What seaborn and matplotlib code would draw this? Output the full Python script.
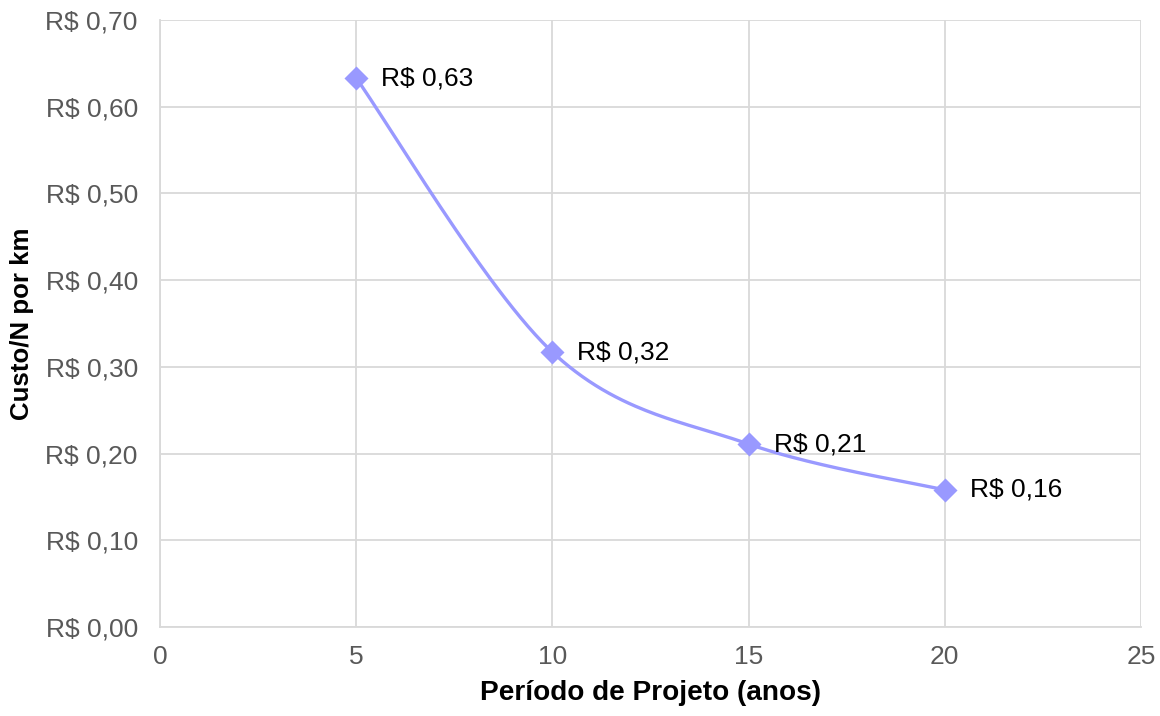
import numpy as np
import pandas as pd
import matplotlib
matplotlib.use("Agg")
import matplotlib.pyplot as plt
import seaborn as sns

# Chart data
periodos = [5, 10, 15, 20]
custos = [0.633, 0.317, 0.211, 0.158]
rotulos = ["R$ 0,63", "R$ 0,32", "R$ 0,21", "R$ 0,16"]
x_ticks = [0, 5, 10, 15, 20, 25]
y_ticks = [0.0, 0.1, 0.2, 0.3, 0.4, 0.5, 0.6, 0.7]
y_tick_labels = ["R$ 0,00", "R$ 0,10", "R$ 0,20", "R$ 0,30",
                 "R$ 0,40", "R$ 0,50", "R$ 0,60", "R$ 0,70"]

LINE = "#9999FF"
GRID = "#D9D9D9"
TICK = "#595959"

sns.set_theme(style="white")
plt.rcParams["font.family"] = ["Liberation Sans", "DejaVu Sans"]

fig = plt.figure(figsize=(11.6, 7.16), dpi=100)
ax = fig.add_axes([160 / 1160, 89 / 716, 981 / 1160, 607 / 716])
ax.set_xlim(0, 25)
ax.set_ylim(0, 0.70)
ax.set_xticks(x_ticks)
ax.set_yticks(y_ticks)
ax.set_yticklabels(y_tick_labels)
ax.grid(True, color=GRID, linewidth=1.3)
ax.set_axisbelow(True)
for side in ["top", "right"]:
    ax.spines[side].set_visible(False)
for side in ["left", "bottom"]:
    ax.spines[side].set_color(GRID)
    ax.spines[side].set_linewidth(1.3)
ax.tick_params(axis="both", length=0, labelsize=19, colors=TICK)
ax.tick_params(axis="x", pad=13)
ax.tick_params(axis="y", pad=16)

# Smoothed curve (Catmull-Rom style Bezier computed in display space)
pts = ax.transData.transform(np.column_stack([periodos, custos]))
ext = np.vstack([pts[0], pts, pts[-1]])
curve = []
t = np.linspace(0, 1, 60)[:, None]
for i in range(len(pts) - 1):
    p0, p3 = ext[i + 1], ext[i + 2]
    c1 = p0 + (ext[i + 2] - ext[i]) / 6
    c2 = p3 - (ext[i + 3] - ext[i + 1]) / 6
    seg = ((1 - t) ** 3) * p0 + 3 * ((1 - t) ** 2) * t * c1 + 3 * (1 - t) * t ** 2 * c2 + t ** 3 * p3
    curve.append(seg if i == 0 else seg[1:])
curve = ax.transData.inverted().transform(np.vstack(curve))
smooth = pd.DataFrame({"x": curve[:, 0], "y": curve[:, 1]})
sns.lineplot(data=smooth, x="x", y="y", ax=ax, color=LINE, linewidth=2.4,
             sort=False, estimator=None)

df = pd.DataFrame({"periodo": periodos, "custo": custos})
sns.scatterplot(data=df, x="periodo", y="custo", ax=ax, marker="D", s=150,
                color=LINE, edgecolor=LINE, linewidth=0, zorder=5)

for xv, yv, lab in zip(periodos, custos, rotulos):
    ax.annotate(lab, (xv, yv), xytext=(18, 0), textcoords="offset points",
                va="center", ha="left", fontsize=19, color="black")

ax.set_xlabel("Período de Projeto (anos)", fontsize=20.2, fontweight="bold",
              color="black", labelpad=8)
ax.set_ylabel("Custo/N por km", fontsize=18.6, fontweight="bold",
              color="black", labelpad=8)

fig.savefig("out.png", dpi=100, facecolor="white")
